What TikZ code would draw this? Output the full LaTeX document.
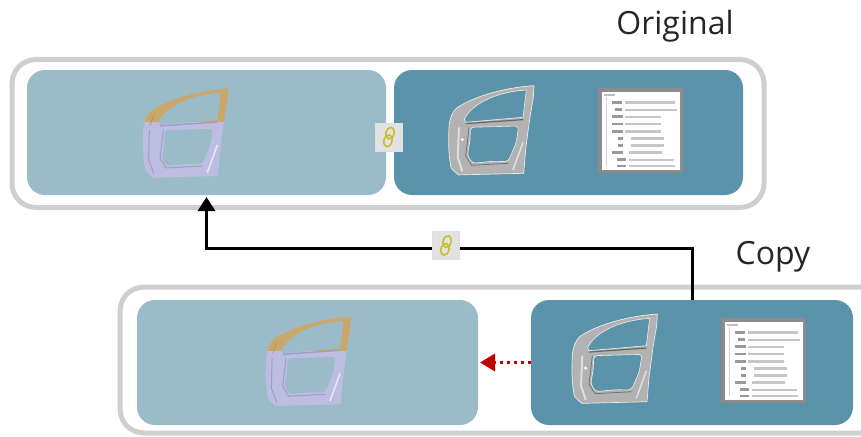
\documentclass[tikz,border=0pt]{standalone}
\usepackage{fontspec}
\setmainfont{Open Sans}
\usetikzlibrary{arrows.meta,calc}
\definecolor{lightpanel}{HTML}{9ABCC8}
\definecolor{darkpanel}{HTML}{5A93AA}
\definecolor{framegray}{HTML}{CFCFCF}
\definecolor{lav}{HTML}{BDBDE2}
\definecolor{lavdark}{HTML}{9E9EC8}
\definecolor{gold}{HTML}{C9A86C}
\definecolor{golddark}{HTML}{AC9260}
\definecolor{chain}{HTML}{C9BF2A}
\definecolor{iconbg}{HTML}{E2E2E2}
\definecolor{arrowred}{HTML}{C00000}
\tikzset{
  x=1pt,y=-1pt,
  frame/.style={draw=framegray,line width=5pt,rounded corners=24pt,fill=white},
  lightbox/.style={fill=lightpanel,rounded corners=18pt,inner sep=0pt,outer sep=0pt,anchor=center},
  darkbox/.style={fill=darkpanel,rounded corners=18pt,inner sep=0pt,outer sep=0pt,anchor=center},
  treepanel/.style={fill=white,draw=gray!90,line width=3.5pt,inner sep=0pt,minimum width=81.5pt,minimum height=81.5pt,anchor=center},
  linkbox/.style={fill=iconbg,draw=gray!25,line width=.5pt,inner sep=0pt,minimum width=27pt,minimum height=28pt},
  label/.style={font=\fontsize{32}{36}\selectfont,text=black!85,inner sep=0pt},
  conn/.style={draw=black,line width=3pt,-{Triangle[length=14pt,width=17pt]}},
  dotconn/.style={draw=arrowred,line width=3.5pt,dash pattern=on 3.5pt off 3.5pt,-{Triangle[length=15pt,width=17pt]}},
}
\def\doorout{(40,150) .. controls (42,122) and (50,105) .. (62,93) .. controls (100,65) and (190,32) .. (295,25) -- (293,60) -- (282,125) -- (270,215) -- (264,288) -- (68,293) -- (46,272) .. controls (38,230) and (38,190) .. (40,150) -- cycle}
\def\doorwin{(86,126) .. controls (105,85) and (170,45) .. (272,38) -- (262,120) -- (90,135) -- cycle}
\def\doorlow{[rounded corners=3.5pt] (104,150) -- (249,146) -- (241,198) -- (217,253) -- (170,252) -- (110,258) -- (95,235) -- (103,190) -- cycle}
\newcommand{\colordoor}[2]{%
  \begin{scope}[shift={(#1,#2)},x=.3333pt,y=-.3333pt]
    \fill[lav,even odd rule] \doorout \doorwin \doorlow;
    \begin{scope}
      \clip (0,0) rectangle (320,126);
      \fill[gold,even odd rule] \doorout \doorwin \doorlow;
    \end{scope}
    \draw[golddark,line width=.7pt] (60,135) -- (72,105);
    \draw[lavdark,line width=1.4pt] (90,138) -- (262,126);
    \draw[lavdark,line width=1pt] (100,150) -- (90,235) -- (108,264) -- (218,258);
    \draw[lavdark,line width=1pt] (58,150) -- (56,240) -- (72,282);
    \draw[white!65!lav,line width=1.5pt] (262,195) -- (232,278);
  \end{scope}}
\newcommand{\graydoor}[2]{%
  \begin{scope}[shift={(#1,#2)},x=.3333pt,y=-.3333pt]
    \fill[gray!60,even odd rule] \doorout \doorwin \doorlow;
    \draw[white!85!gray,line width=.7pt] \doorout;
    \draw[white!85!gray,line width=.6pt] \doorwin;
    \draw[white!85!gray,line width=.6pt] \doorlow;
    \draw[gray!120,line width=1.2pt] (90,139) -- (262,127);
    \draw[gray!110,line width=.8pt] (100,150) -- (90,235) -- (108,264) -- (218,258);
    \draw[white!75!gray,line width=2pt] (70,150) -- (66,240) -- (80,282);
    \draw[white!75!gray,line width=1.5pt] (262,195) -- (232,278);
    \fill[white] (80,187) circle (1.6pt);
  \end{scope}}
\newcommand{\treerows}[2]{%
  \begin{scope}[shift={(#1,#2)}]
    \draw[gray!35,line width=.5pt] (7,9) -- (7,78);
    \fill[gray!50] (5,5.5) rectangle (16,8);
    \foreach \yy/\xa/\xb/\xc/\xd in {14.3/13/23/26/76,21.7/16/23/26/78,28.7/13/24/26/62,36/13/24/26/62,43.3/13/24/26/62,50.3/19/24/32/65,57.3/19/24/32/65,64.3/13/24/30/63,71.7/18/27/30/75,78/18/27/30/76}{
      \fill[gray!80] (\xa,\yy-1.4) rectangle (\xb,\yy+1.4);
      \draw[gray!45,line width=2.4pt,dash pattern=on 3.5pt off .5pt] (\xc,\yy) -- (\xd,\yy);
    }
  \end{scope}}
\newcommand{\chainicon}[1]{%
  \begin{scope}[shift={(#1)}]
    \draw[chain,line width=1.6pt,rotate=-15] (0,-4) ellipse (4pt and 6pt);
    \draw[chain,line width=1.6pt,rotate=-15] (0,4) ellipse (4pt and 6pt);
  \end{scope}}
\begin{document}
\begin{tikzpicture}
\useasboundingbox (0,0) rectangle (861,436);
\fill[white] (0,0) rectangle (861,436);
\node[frame,minimum width=752pt,minimum height=148pt,inner sep=0pt] (topframe) at (388,133.5) {};
\node[frame,minimum width=800pt,minimum height=146pt,inner sep=0pt] (botframe) at (520,360) {};
\node[lightbox,minimum width=359pt,minimum height=125pt] (ol) at (206.5,132.5) {};
\node[darkbox,minimum width=349pt,minimum height=125pt] (od) at (568.5,132.5) {};
\node[lightbox,minimum width=341pt,minimum height=125pt] (cl) at (307.5,362.5) {};
\node[darkbox,minimum width=322pt,minimum height=125pt] (cd) at (692,362.5) {};
\colordoor{130}{80}
\colordoor{252.7}{308.3}
\graydoor{435.7}{77.3}
\graydoor{559}{305.7}
\node[treepanel] (t1) at (640.5,130.5) {};
\treerows{599}{88}
\node[treepanel] (t2) at (763.5,360.5) {};
\treerows{722}{318}
\draw[conn] (cd.north) -- ++(0,-52) -| ([yshift=-2pt]ol.south);
\draw[dotconn] (cd.west) -- ([xshift=2pt]cl.east);
\node[linkbox] (l1) at (389,137) {};
\chainicon{l1.center}
\node[linkbox] (l2) at (446,245.5) {};
\chainicon{l2.center}
\node[label] (orig) at (675,26) {Original};
\node[label] (copy) at (773,257) {Copy};
\end{tikzpicture}
\end{document}
